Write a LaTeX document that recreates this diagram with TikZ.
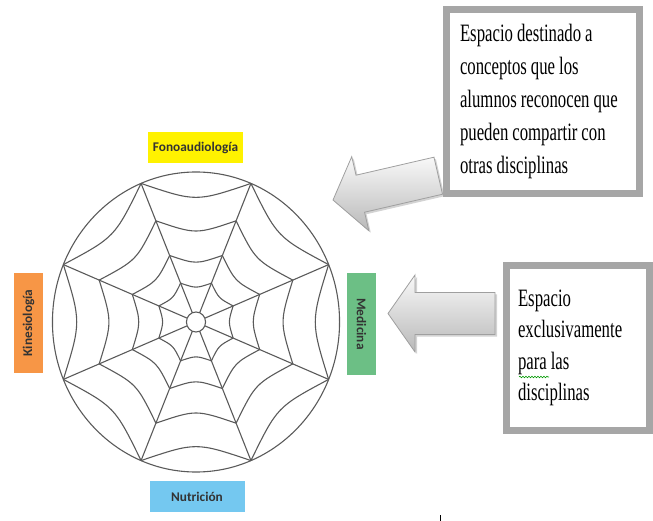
\documentclass[tikz,border=0pt]{standalone}
\usepackage{fontspec}
\setmainfont{Liberation Serif}
\newfontfamily\nhanfont{Carlito}
\newfontfamily\hopfont{Liberation Serif}[FakeStretch=0.67]
\usetikzlibrary{shadows,decorations.pathmorphing}

\definecolor{vang}{HTML}{FFF200}
\definecolor{cam}{HTML}{F79646}
\definecolor{xanhla}{HTML}{6CBF85}
\definecolor{xanhduong}{HTML}{74C8F0}
\definecolor{vien}{HTML}{A6A6A6}
\definecolor{mauluoi}{HTML}{5A5A5A}

\begin{document}
\begin{tikzpicture}[x=1pt, y=-1pt,
		luoi/.style={draw=mauluoi, line width=1.1pt},
		nhan/.style={minimum width=95pt, minimum height=31pt, inner sep=0pt, text=black!80,
			font=\nhanfont\bfseries\fontsize{13.3}{15}\selectfont},
		hop/.style={draw=vien, line width=6.5pt, align=left, inner ysep=0pt, inner xsep=13.5pt,
			font=\hopfont\fontsize{25}{31.5}\selectfont, execute at begin node={\spaceskip=4pt\relax}},
		muiten/.style={draw=gray!75, line width=0.8pt, top color=gray!5, bottom color=gray!55,
			drop shadow={shadow xshift=2pt, shadow yshift=-2pt, opacity=0.35}}]
		
		\useasboundingbox (0,0) rectangle (653,521);
		
		% --- 1. Mạng nhện ---
		\coordinate (O) at (196,322); % tâm
		\begin{scope}[shift={(O)}, xscale=0.957]
			\draw[luoi] (0,0) circle (150);
			\draw[luoi] (0,0) circle (10);
			\foreach \g in {22.5,67.5,...,337.5} {
				\draw[luoi] (\g:10) -- (\g:150);
				\foreach \k in {1,0.73,0.48,0.28}
					\draw[luoi] (\g:150*\k) .. controls (\g+22.5:120*\k) .. (\g+45:150*\k);
			}
		\end{scope}
		
		% --- 2. Các nhãn màu ---
		\node[nhan, fill=vang] (fono) at (195.5,147.5) {Fonoaudiología};
		\node[nhan, fill=xanhduong] (nutri) at (197,496.5) {Nutrición};
		\node[nhan, fill=cam, rotate=90, minimum width=100pt, minimum height=29pt] (kine) at (28.5,323) {Kinesiología};
		\node[nhan, fill=xanhla, rotate=-90, minimum width=102pt, minimum height=29pt] (medi) at (361.5,324) {Medicina};
		
		% --- 3. Mũi tên khối ---
		\begin{scope}[shift={(333,200)}, rotate=13]
			\draw[muiten] (0,0) -- (28,-38) -- (28,-19) -- (108,-19) -- (108,19) -- (28,19) -- (28,38) -- cycle;
		\end{scope}
		\begin{scope}[shift={(388,313.5)}]
			\draw[muiten] (0,0) -- (27,-38.5) -- (27,-21) -- (107,-21) -- (107,21) -- (27,21) -- (27,38.5) -- cycle;
		\end{scope}
		
		% --- 4. Hộp chữ ---
		\node[hop, text width=166pt, minimum height=184pt, fill=white,
			font=\hopfont\fontsize{25}{33}\selectfont] (hop1) at (543,101.5)
			{Espacio destinado a\\ conceptos que los\\ alumnos reconocen que\\ pueden compartir con\\ otras disciplinas};
		\node[hop, text width=120pt, inner xsep=11.5pt, minimum height=165pt, fill=white] (hop2) at (578,348)
			{Espacio\\ exclusivamente\\ para las\\ disciplinas};
		
		% gạch sóng dưới "para"
		\draw[green!60!black, line width=0.6pt, decorate, decoration={snake, amplitude=0.8pt, segment length=3pt}] (519,377) -- (549,377);
		
		% con trỏ
		\fill (439.5,515) rectangle (441.3,521);
	\end{tikzpicture}
\end{document}
